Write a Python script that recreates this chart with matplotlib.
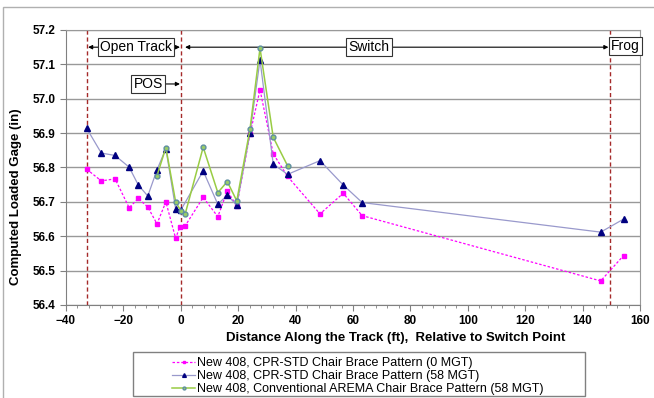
import matplotlib
matplotlib.use("Agg")
import matplotlib.pyplot as plt
from matplotlib.patches import Rectangle
from matplotlib.ticker import MultipleLocator, FormatStrFormatter

plt.rcParams['font.family'] = ['Liberation Sans', 'DejaVu Sans']

# CPR-STD chair brace, 0 MGT
x_std0 = [-32.8, -27.7, -22.9, -18.0, -14.8, -11.5, -8.3, -5.2, -1.8, -0.3, 1.5,
          7.8, 12.9, 16.2, 19.5, 24.1, 27.6, 32.2, 37.2, 48.5, 56.6, 63.2, 146.3, 154.3]
y_std0 = [56.795, 56.761, 56.767, 56.683, 56.710, 56.685, 56.636, 56.700, 56.594, 56.628, 56.630,
          56.713, 56.657, 56.732, 56.688, 56.897, 57.026, 56.840, 56.774, 56.665, 56.725, 56.660, 56.470, 56.544]

# CPR-STD chair brace, 58 MGT
x_std58 = [-32.8, -27.7, -22.9, -18.0, -14.8, -11.5, -8.3, -5.2, -1.8, 0.0,
           7.8, 12.9, 16.2, 19.5, 24.1, 27.6, 32.2, 37.2, 48.5, 56.6, 63.2, 146.3, 154.3]
y_std58 = [56.914, 56.842, 56.835, 56.801, 56.749, 56.717, 56.793, 56.855, 56.680, 56.676,
           56.790, 56.693, 56.720, 56.690, 56.900, 57.113, 56.810, 56.780, 56.820, 56.749, 56.698, 56.612, 56.650]

# Conventional AREMA chair brace, 58 MGT
x_arema = [-8.3, -5.2, -1.8, 0.0, 1.5, 7.8, 12.9, 16.2, 19.5, 24.1, 27.6, 32.2, 37.2]
y_arema = [56.776, 56.858, 56.700, 56.674, 56.664, 56.859, 56.727, 56.759, 56.703, 56.911, 57.147, 56.888, 56.805]

labels = ["New 408, CPR-STD Chair Brace Pattern (0 MGT)",
          "New 408, CPR-STD Chair Brace Pattern (58 MGT)",
          "New 408, Conventional AREMA Chair Brace Pattern (58 MGT)"]

zone_lines = [-32.8, 0.0, 149.5]

fig = plt.figure(figsize=(6.54, 3.98), dpi=100)
ax = fig.add_axes([66/654, 1 - 305/398, 574/654, 275/398])

# outer chart border (left and top visible)
fig.patches.append(Rectangle((3/654, -0.5), 2.0, 1.5 - 7/398, transform=fig.transFigure,
                             fill=False, edgecolor='#b0b0b0', lw=1.0))

ax.set_xlim(-40, 160)
ax.set_ylim(56.4, 57.2)
ax.xaxis.set_major_locator(MultipleLocator(20))
ax.xaxis.set_minor_locator(MultipleLocator(4))
ax.yaxis.set_major_locator(MultipleLocator(0.1))
ax.yaxis.set_major_formatter(FormatStrFormatter('%.1f'))
ax.grid(axis='y', color='#999999', lw=1.0)
ax.set_axisbelow(True)
for s in ax.spines.values():
    s.set_color('#999999')
ax.spines['left'].set_color('#808080')
ax.spines['bottom'].set_color('#808080')
ax.tick_params(axis='both', which='major', direction='out', length=4, color='#808080',
               labelsize=8.5)
ax.tick_params(axis='x', which='minor', direction='out', length=2, color='#808080')
for lab in ax.get_xticklabels() + ax.get_yticklabels():
    lab.set_fontweight('bold')

for xv in zone_lines:
    ax.axvline(xv, color='#a52a2a', lw=1.0, ls=(0, (3, 2)), zorder=1)

l1, = ax.plot(x_std0, y_std0, color='#ff00ff', lw=0.9, ls=(0, (2, 1.5)), marker='s', ms=3.5,
              mfc='#ff00ff', mec='#ff00ff', zorder=3)
l2, = ax.plot(x_std58, y_std58, color='#9999cc', lw=0.9, marker='^', ms=4.5,
              mfc='#000080', mec='#000080', zorder=4)
l3, = ax.plot(x_arema, y_arema, color='#99cc44', lw=1.1, marker='o', ms=3.5,
              mfc='#99cc66', mec='#5f8fa0', mew=1.0, zorder=5)

# zone annotations
box = dict(boxstyle='square,pad=0.15', fc='white', ec='#333333', lw=0.8)
arr = dict(arrowstyle='-|>', color='black', lw=0.8, mutation_scale=6, shrinkA=0, shrinkB=0)
ya = 57.15
ax.text(-15.6, ya, "Open Track", fontsize=10, ha='center', va='center', bbox=box, zorder=6)
ax.annotate('', xy=(-32.3, ya), xytext=(-28.0, ya), arrowprops=arr)
ax.annotate('', xy=(-0.3, ya), xytext=(-3.2, ya), arrowprops=arr)
ax.text(65.6, ya, "Switch", fontsize=10, ha='center', va='center', bbox=box, zorder=6)
ax.annotate('', xy=(1.5, ya), xytext=(57.7, ya), arrowprops=arr)
ax.annotate('', xy=(149.0, ya), xytext=(73.4, ya), arrowprops=arr)
ax.text(155.0, ya + 0.003, "Frog", fontsize=10, ha='center', va='center', bbox=box, zorder=6,
        clip_on=False)
ax.text(-11.4, 57.043, "POS", fontsize=10, ha='center', va='center', bbox=box, zorder=6)
ax.annotate('', xy=(-0.3, 57.043), xytext=(-5.5, 57.043), arrowprops=arr)

fig.text(396/654, 1 - 338/398, "Distance Along the Track (ft),  Relative to Switch Point",
         fontsize=9.5, fontweight='bold', ha='center', va='center')
fig.text(16/654, 1 - 197/398, "Computed Loaded Gage (in)", fontsize=9.5, fontweight='bold',
         ha='center', va='center', rotation=90)

# legend with a wide box like the original
fig.patches.append(Rectangle((133/654, 1 - 396/398), 452/654, 44/398, transform=fig.transFigure,
                             fill=False, edgecolor='#808080', lw=1.0))
fig.legend([l1, l2, l3], labels, loc='upper left', bbox_to_anchor=(166/654, 1 - 351/398),
           frameon=False, fontsize=9, handlelength=1.8, handletextpad=0.2,
           labelspacing=0.08, borderpad=0.0, markerscale=0.6)

fig.savefig("out.png", dpi=100)
